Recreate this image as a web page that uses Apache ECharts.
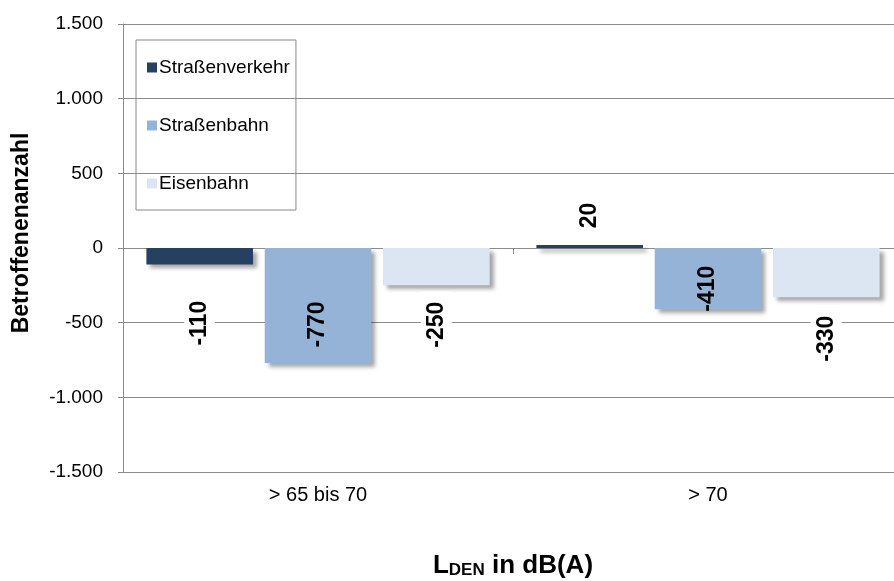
<!DOCTYPE html>
<html>
<head>
<meta charset="utf-8">
<script src="https://cdn.jsdelivr.net/npm/echarts@6/dist/echarts.min.js"></script>
<style>
  html, body { margin: 0; padding: 0; background: #fff; }
  #chart { width: 894px; height: 581px; }
</style>
</head>
<body>
<div id="chart"></div>
<script>
// Noise-affected population change per level band
const categories = ['> 65 bis 70', '> 70'];
const seriesNames = ['Straßenverkehr', 'Straßenbahn', 'Eisenbahn'];
const strassenverkehr = [-110, 20];
const strassenbahn = [-770, -410];
const eisenbahn = [-250, -330];
const yTicks = [-1500, -1000, -500, 0, 500, 1000, 1500];

// downward shift (pixels) of each value label from its bar centre
const labelShift = [
  [67, -31],
  [19, 10],
  [58, 66]
];
const labelBoxed = [
  [true, false],
  [false, false],
  [true, true]
];
const colors = ['#254061', '#95B3D7', '#DCE6F2'];
const FONT = 'Liberation Sans, Arial, sans-serif';

function fmt(v) {
  const s = String(Math.abs(v)).replace(/\B(?=(\d{3})+(?!\d))/g, '.');
  return (v < 0 ? '-' : '') + s;
}

const valueSets = [strassenverkehr, strassenbahn, eisenbahn];
const series = seriesNames.map((name, si) => ({
  name: name,
  type: 'bar',
  xAxisIndex: 0,
  barGap: '11%',
  barCategoryGap: '12%',
  itemStyle: {
    color: colors[si],
    shadowBlur: 4,
    shadowOffsetX: 4,
    shadowOffsetY: 4,
    shadowColor: 'rgba(0,0,0,0.35)'
  },
  data: valueSets[si].map((v, ci) => ({
    value: v,
    label: {
      show: true,
      position: 'inside',
      rotate: 90,
      // rotated label: local x runs upward on screen
      offset: [-labelShift[si][ci], 0],
      backgroundColor: labelBoxed[si][ci] ? '#fff' : 'transparent',
      padding: [4, 10]
    }
  })),
  label: {
    show: true,
    fontFamily: FONT,
    fontWeight: 'bold',
    fontSize: 23,
    color: '#000',
    formatter: p => fmt(p.value)
  }
}));

const chart = echarts.init(document.getElementById('chart'), null, { renderer: 'canvas' });
chart.setOption({
  animation: false,
  textStyle: { fontFamily: FONT },
  grid: { left: 123, top: 24, width: 780, bottom: 109, containLabel: false, outerBoundsMode: 'none' },
  legend: {
    orient: 'vertical',
    left: 136,
    top: 40,
    data: seriesNames,
    icon: 'rect',
    itemWidth: 10,
    itemHeight: 10,
    itemGap: 39,
    padding: [18, 6, 17, 11],
    borderColor: '#888',
    borderWidth: 1,
    textStyle: { fontSize: 19, color: '#000', padding: [0, 0, 0, -3] }
  },
  xAxis: [
    {
      type: 'category',
      data: categories,
      position: 'bottom',
      axisLine: { onZero: false, lineStyle: { color: '#8c8c8c' } },
      axisTick: { show: false },
      axisLabel: { fontSize: 20, color: '#000', margin: 13 },
      name: '{l|L}{s|DEN}{l| in dB(A)}',
      nameLocation: 'middle',
      nameGap: 80,
      nameTextStyle: {
        rich: {
          l: { fontSize: 26, fontWeight: 'bold', color: '#000', fontFamily: FONT },
          s: { fontSize: 17, fontWeight: 'bold', color: '#000', fontFamily: FONT, padding: [10, 0, 0, 0] }
        }
      }
    },
    {
      type: 'category',
      data: categories,
      position: 'top',
      axisLine: { show: true, onZero: true, lineStyle: { color: '#8c8c8c' } },
      axisTick: { show: true, inside: true, length: 6, lineStyle: { color: '#8c8c8c' } },
      axisLabel: { show: false }
    }
  ],
  yAxis: {
    type: 'value',
    min: yTicks[0],
    max: yTicks[yTicks.length - 1],
    interval: 500,
    axisLine: { show: true, lineStyle: { color: '#8c8c8c' } },
    axisTick: { show: true, length: 5, lineStyle: { color: '#8c8c8c' } },
    axisLabel: { fontSize: 19, color: '#000', margin: 20, formatter: v => fmt(v) },
    splitLine: { lineStyle: { color: '#8c8c8c' } },
    name: 'Betroffenenanzahl',
    nameLocation: 'middle',
    nameGap: 90,
    nameTextStyle: { fontSize: 23, fontWeight: 'bold', color: '#000', padding: [0, 0, 0, 30] }
  },
  series: series
});
</script>
</body>
</html>
